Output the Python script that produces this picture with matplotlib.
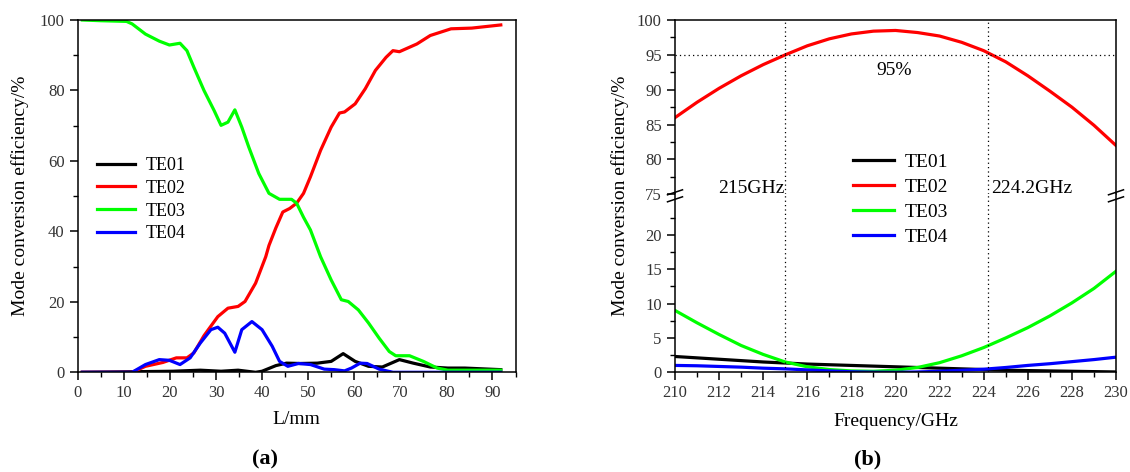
import matplotlib
matplotlib.use("Agg")
import matplotlib.pyplot as plt
from matplotlib.lines import Line2D
from matplotlib.ticker import MultipleLocator, FixedLocator

plt.rcParams['font.family'] = ['Liberation Serif', 'DejaVu Serif']
plt.rcParams['mathtext.fontset'] = 'stix'

# ---------------- panel (a) data ----------------
te01_L = [1, 20.7, 26.6, 31.1, 34.8, 38.6, 40, 43, 45.3, 48.3, 52, 55, 57.6, 60.2, 63.1,
          66.1, 69.8, 72.8, 76.5, 80.3, 84, 91.8]
te01_a = [0, 0.3, 0.6, 0.3, 0.6, 0, 0.3, 1.9, 2.6, 2.5, 2.6, 3.1, 5.3, 3.1, 1.7,
          1.5, 3.6, 2.6, 1.5, 1.2, 1.2, 0.75]

te02_L = [1, 10, 11.8, 14.7, 18.5, 21.4, 23.7, 25.2, 27.4, 30.4, 32.6, 34.8, 36.3, 38.6,
          40.8, 41.5, 43, 44.5, 46, 47.5, 49, 50.5, 52.7, 55, 56.8, 57.9, 60.2, 62.4, 64.6,
          66.9, 68.4, 69.8, 73.6, 76.5, 81, 85.5, 91.8]
te02_a = [0, 0, 0, 1.7, 2.8, 4.1, 4.1, 5.5, 10.4, 15.8, 18.2, 18.7, 20.1, 25.3,
          32.8, 36.0, 41.0, 45.5, 46.5, 48, 50.8, 55.5, 63, 69.6, 73.6, 73.9, 76.2, 80.5, 85.7,
          89.4, 91.3, 91, 93.2, 95.6, 97.5, 97.7, 98.6]

te03_L = [1, 5, 10.6, 11.8, 14.7, 17.7, 19.9, 22.2, 23.7, 25.2, 27.4, 29.6, 31.1, 32.6,
          34.1, 35.6, 37.1, 39.3, 41.5, 43.8, 46.4, 47.5, 49, 50.5, 52.7, 55, 57.2, 58.7,
          60.9, 63.1, 65.4, 67.6, 69, 72, 75, 78, 80.3, 85, 91.8]
te03_a = [100, 99.8, 99.6, 98.9, 96, 94, 92.9, 93.4, 91.3, 86.6, 80, 74.3, 70.1, 71,
          74.5, 69.6, 64, 56.4, 50.8, 49.1, 49.1, 48, 44, 40.4, 32.8, 26.2, 20.6, 20.1,
          17.7, 14, 9.7, 5.9, 4.7, 4.7, 3.1, 1.2, 0.6, 0.6, 0.6]

te04_L = [1, 11.8, 14.7, 17.7, 19.9, 22.2, 24.4, 26.6, 28.9, 30.4, 31.9, 34.1, 35.6, 37.8,
          40, 42.2, 43.8, 45.6, 47.9, 50.5, 53.5, 55.7, 57.9, 59.4, 61.3, 62.8, 65.4, 68.4, 91.8]
te04_a = [0, 0, 2.2, 3.6, 3.4, 2.2, 4.1, 8.3, 12.1, 12.8, 11.1, 5.7, 12.1, 14.4,
          12.1, 7.4, 3.1, 1.7, 2.5, 2.2, 0.9, 0.75, 0.4, 1.2, 2.6, 2.5, 0.9, 0, 0]

# ---------------- panel (b) data ----------------
freq = [210, 211, 212, 213, 214, 215, 216, 217, 218, 219, 220,
        221, 222, 223, 224, 225, 226, 227, 228, 229, 230]
te01_b = [2.3, 2.1, 1.9, 1.7, 1.5, 1.35, 1.2, 1.1, 1.0, 0.9, 0.8,
          0.7, 0.6, 0.5, 0.4, 0.3, 0.25, 0.2, 0.15, 0.1, 0.05]
te02_b = [86.0, 88.2, 90.2, 92.0, 93.6, 95.0, 96.3, 97.3, 98.0, 98.4, 98.5,
          98.2, 97.7, 96.8, 95.6, 94.0, 92.0, 89.8, 87.5, 84.9, 82.0]
te03_b = [9.0, 7.2, 5.5, 3.9, 2.6, 1.5, 0.8, 0.4, 0.2, 0.15, 0.3,
          0.7, 1.4, 2.4, 3.6, 5.0, 6.5, 8.2, 10.1, 12.2, 14.7]
te04_b = [1.0, 0.95, 0.85, 0.75, 0.6, 0.5, 0.35, 0.2, 0.08, 0.02, 0.0,
          0.05, 0.15, 0.3, 0.45, 0.7, 1.0, 1.25, 1.55, 1.85, 2.2]

mode_names = ['TE01', 'TE02', 'TE03', 'TE04']
colors = ['#000000', '#ff0000', '#00ff00', '#0000ff']
f_lo, f_hi, eff_ref = 215, 224.2, 95

W, H = 1130, 472
fig = plt.figure(figsize=(W / 100, H / 100), dpi=100)


def fx(px):
    return px / W


def fy(py):
    return 1 - py / H


LW = 2.3
tick_color = '#333333'


def style_axis(ax):
    for s in ax.spines.values():
        s.set_linewidth(1.1)
    ax.tick_params(which='major', direction='out', length=6, width=1.1,
                   labelsize=12, labelcolor=tick_color, top=False, right=False)
    ax.tick_params(which='minor', direction='out', length=3.5, width=1.0,
                   top=False, right=False)


# ---------------- panel (a) ----------------
axa = fig.add_axes([fx(77.7), fy(372.3), fx(516) - fx(77.7), fy(20) - fy(372.3)])
for L, v, c, n in zip([te01_L, te02_L, te03_L, te04_L],
                      [te01_a, te02_a, te03_a, te04_a], colors, mode_names):
    axa.plot(L, v, color=c, lw=LW, label=n, solid_joinstyle='round')
axa.set_xlim(0, 95.1)
axa.set_ylim(0, 100)
axa.xaxis.set_major_locator(FixedLocator(range(0, 91, 10)))
axa.xaxis.set_minor_locator(MultipleLocator(5))
axa.yaxis.set_major_locator(MultipleLocator(20))
axa.yaxis.set_minor_locator(MultipleLocator(10))
style_axis(axa)
axa.legend(loc='upper left', bbox_to_anchor=(fx(97), fy(157)), bbox_transform=fig.transFigure,
           frameon=False, fontsize=13, handlelength=2.1, handletextpad=0.6,
           labelspacing=0.32, borderpad=0, borderaxespad=0)
fig.text(fx(296), fy(419), 'L/mm', ha='center', va='center', fontsize=14)
fig.text(fx(20), fy(196), 'Mode conversion efficiency/%', rotation=90,
         ha='center', va='center', fontsize=14)
fig.text(fx(265), fy(459), '(a)', ha='center', va='center', fontsize=16, fontweight='bold')

# ---------------- panel (b) ----------------
x0, x1 = 675, 1116
ybrk = 194.3
axt = fig.add_axes([fx(x0), fy(ybrk), fx(x1) - fx(x0), fy(20) - fy(ybrk)])
axb = fig.add_axes([fx(x0), fy(372.3), fx(x1) - fx(x0), fy(ybrk) - fy(372.3)], sharex=axt)

for ax in (axt, axb):
    for v, c, n in zip([te01_b, te02_b, te03_b, te04_b], colors, mode_names):
        ax.plot(freq, v, color=c, lw=LW, label=n)
    ax.axvline(f_lo, color='black', ls=(0, (1, 2.5)), lw=0.9)
    ax.axvline(f_hi, color='black', ls=(0, (1, 2.5)), lw=0.9)
    style_axis(ax)

axt.axhline(eff_ref, color='black', ls=(0, (1, 2.5)), lw=0.9)
axt.set_xlim(210, 230)
axt.set_ylim(75, 100)
axb.set_ylim(0, 25.9)
axt.yaxis.set_major_locator(MultipleLocator(5))
axt.yaxis.set_minor_locator(MultipleLocator(2.5))
axb.yaxis.set_major_locator(FixedLocator([0, 5, 10, 15, 20]))
axb.yaxis.set_minor_locator(FixedLocator([2.5, 7.5, 12.5, 17.5, 22.5]))
axb.xaxis.set_major_locator(MultipleLocator(2))
axb.xaxis.set_minor_locator(MultipleLocator(1))
axt.spines['bottom'].set_visible(False)
axb.spines['top'].set_visible(False)
axt.tick_params(axis='x', which='both', bottom=False, labelbottom=False)

axt.text(219.95, 92.8, '95%', ha='center', va='center', fontsize=14)
axt.text(f_lo - 0.05, 75.8, '215GHz', ha='right', va='center', fontsize=14, clip_on=False)
axt.text(f_hi + 0.12, 75.8, '224.2GHz', ha='left', va='center', fontsize=14, clip_on=False)

handles = [Line2D([], [], color=c, lw=LW) for c in colors]
fig.legend(handles, mode_names, loc='upper left', bbox_to_anchor=(fx(853), fy(153)),
           bbox_transform=fig.transFigure, frameon=False, fontsize=14, handlelength=2.1,
           handletextpad=0.55, labelspacing=0.38, borderpad=0, borderaxespad=0)

# break marks
for xs in (x0, x1):
    for yb in (194.8, 201.8):
        fig.add_artist(Line2D([fx(xs - 7.5), fx(xs + 7.5)], [fy(yb), fy(yb - 5)],
                              transform=fig.transFigure, color='black', lw=1.1))

fig.text(fx(896), fy(421), 'Frequency/GHz', ha='center', va='center', fontsize=14)
fig.text(fx(620), fy(196), 'Mode conversion efficiency/%', rotation=90,
         ha='center', va='center', fontsize=14)
fig.text(fx(868), fy(459), '(b)', ha='center', va='center', fontsize=16, fontweight='bold')

fig.savefig('out.png', dpi=100)
